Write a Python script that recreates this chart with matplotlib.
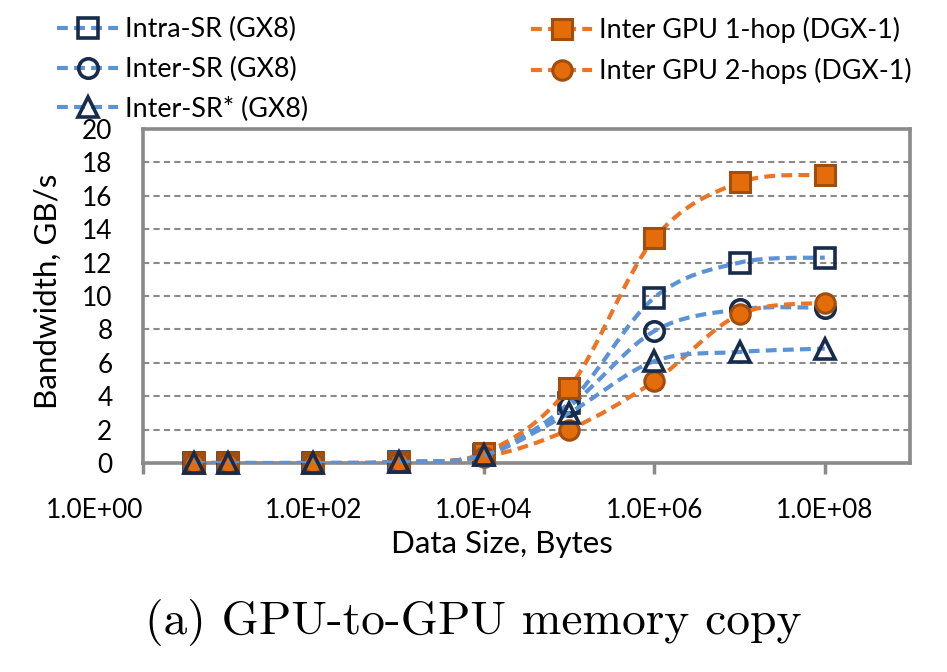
import numpy as np
import matplotlib
matplotlib.use("Agg")
import matplotlib.pyplot as plt
from matplotlib.path import Path
from matplotlib.patches import PathPatch
from matplotlib.lines import Line2D
from matplotlib.font_manager import FontProperties

plt.rcParams['font.family'] = ['Lato', 'DejaVu Sans']

# Data
data_size = [4, 10, 1e2, 1e3, 1e4, 1e5, 1e6, 1e7, 1e8]
intra_sr = [0.0, 0.0, 0.0, 0.05, 0.5, 3.6, 9.9, 12.0, 12.3]
inter_sr = [0.0, 0.0, 0.0, 0.05, 0.5, 3.4, 7.9, 9.2, 9.3]
inter_sr_star = [0.0, 0.0, 0.0, 0.05, 0.45, 3.0, 6.1, 6.65, 6.85]
gpu_1hop = [0.0, 0.0, 0.0, 0.05, 0.6, 4.5, 13.45, 16.8, 17.25]
gpu_2hops = [0.0, 0.0, 0.0, 0.05, 0.35, 2.0, 4.9, 8.9, 9.6]

labels = ["Intra-SR (GX8)", "Inter-SR (GX8)", "Inter-SR* (GX8)",
          "Inter GPU 1-hop (DGX-1)", "Inter GPU 2-hops (DGX-1)"]
x_ticks = [1e0, 1e2, 1e4, 1e6, 1e8]
x_tick_labels = ["1.0E+00", "1.0E+02", "1.0E+04", "1.0E+06", "1.0E+08"]
y_ticks = list(range(0, 21, 2))

BLUE = '#5B93D6'
NAVY = '#172B4C'
ORANGE = '#EC7424'
ORANGE_FACE = '#E46C0A'
ORANGE_EDGE = '#A04D0D'
GRAY = '#8A8A8A'
DASH = (0, (2.6, 1.5))


def smooth_path(xs, ys):
    # Excel-style smoothed line: Catmull-Rom segments as cubic Beziers in log-x space
    pts = np.column_stack([np.log10(xs), np.asarray(ys, dtype=float)])
    n = len(pts)
    verts = [pts[0]]
    codes = [Path.MOVETO]
    for i in range(n - 1):
        p0, p1 = pts[max(i - 1, 0)], pts[i]
        p2, p3 = pts[i + 1], pts[min(i + 2, n - 1)]
        verts += [p1 + (p2 - p0) / 6, p2 - (p3 - p1) / 6, p2]
        codes += [Path.CURVE4] * 3
    verts = np.array(verts)
    verts[:, 0] = 10 ** verts[:, 0]
    return Path(verts, codes)


fig = plt.figure(figsize=(9.47, 6.72), dpi=100)
renderer = fig.canvas.get_renderer()


def fit_size(text, width_px, family='Lato'):
    # font size (pt) that makes text about width_px wide
    w, _, _ = renderer.get_text_width_height_descent(
        text, FontProperties(family=family, size=10), ismath=False)
    return 10 * width_px / w


tick_fs = fit_size("1.0E+02", 97)
title_fs = fit_size("Data Size, Bytes", 222)
legend_fs = fit_size("Inter GPU 2-hops (DGX-1)", 312)
caption_fs = fit_size("(a) GPU-to-GPU memory copy", 656, family='cmr10')

ax = fig.add_axes([143 / 947, 1 - 463 / 672, 767 / 947, 334 / 672])

series = [
    (intra_sr, BLUE, 's', 'none', NAVY, 1),
    (inter_sr, BLUE, 'o', 'none', NAVY, 2),
    (gpu_1hop, ORANGE, 's', ORANGE_FACE, ORANGE_EDGE, 3),
    (gpu_2hops, ORANGE, 'o', ORANGE_FACE, ORANGE_EDGE, 4),
    (inter_sr_star, BLUE, '^', 'none', NAVY, 5),
]

handles = []
for ys, lc, mk, mfc, mec, z in series:
    ax.add_patch(PathPatch(smooth_path(data_size, ys), fill=False, edgecolor=lc,
                           lw=3, linestyle=DASH, zorder=z + 2))
    mew = 2.6 if mfc == 'none' else 2.2
    ax.plot(data_size, ys, linestyle='none', marker=mk, ms=14, mfc=mfc, mec=mec,
            mew=mew, zorder=z + 2.5, clip_on=False)
    handles.append(Line2D([], [], color=lc, lw=3, linestyle=DASH, marker=mk,
                          ms=14, mfc=mfc, mec=mec, mew=mew))

ax.set_xscale('log')
ax.set_xlim(1, 1e9)
ax.set_ylim(0, 20)
ax.set_xticks(x_ticks)
ax.set_xticklabels(x_tick_labels)
ax.xaxis.set_minor_locator(matplotlib.ticker.NullLocator())
ax.set_yticks(y_ticks)
ax.tick_params(axis='x', length=8, width=2.5, color=GRAY, pad=17, labelsize=tick_fs)
ax.tick_params(axis='y', length=0, pad=22, labelsize=tick_fs)
ax.get_xticklabels()[0].set_ha('right')

ax.grid(axis='y', color=GRAY, lw=1.5, linestyle=(0, (3, 2)))
ax.set_axisbelow(True)
for sp in ax.spines.values():
    sp.set_color(GRAY)
    sp.set_linewidth(2.6)

ax.set_xlabel("Data Size, Bytes", fontsize=title_fs)
ax.xaxis.set_label_coords(0.468, -0.2)
ax.set_ylabel("Bandwidth, GB/s", fontsize=title_fs)
ax.yaxis.set_label_coords(-0.106, 0.515)

leg_kw = dict(frameon=False, fontsize=legend_fs, borderpad=0, borderaxespad=0,
              handlelength=61 / (legend_fs * 100 / 72), handletextpad=0.25,
              labelspacing=0.55, loc='upper left')
# series order above: intra, inter, 1-hop, 2-hops, inter*
fig.legend([handles[0], handles[1], handles[4]], labels[:3],
           bbox_to_anchor=(57 / 947, 1 - 17 / 672), **leg_kw)
fig.legend([handles[2], handles[3]], labels[3:],
           bbox_to_anchor=(531 / 947, 1 - 17 / 672), **leg_kw)

fig.text(473 / 947, 1 - 623 / 672, "(a) GPU-to-GPU memory copy", family='cmr10',
         fontsize=caption_fs, ha='center', va='center')

fig.savefig("out.png", dpi=100)
